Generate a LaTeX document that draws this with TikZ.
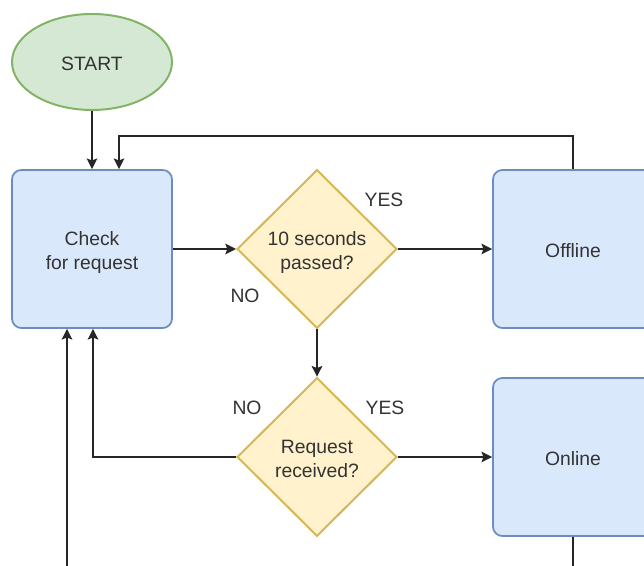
\documentclass[tikz,border=0pt]{standalone}
\usepackage{fontspec}
\setmainfont{Liberation Sans}
\usetikzlibrary{shapes.geometric,arrows.meta}
\definecolor{gfill}{HTML}{D5E8D4}
\definecolor{gline}{HTML}{82B366}
\definecolor{bfill}{HTML}{DAE8FC}
\definecolor{bline}{HTML}{6C8EBF}
\definecolor{yfill}{HTML}{FFF2CC}
\definecolor{yline}{HTML}{D6B656}
\definecolor{txt}{HTML}{333333}
\newcommand{\twoline}[2]{\raisebox{-2.5pt}[\height][\depth]{\begin{tabular}{@{}c@{}}#1\\#2\end{tabular}}}
\newcommand{\oneline}[1]{\raisebox{-1.2pt}[\height][\depth]{#1}}
\begin{document}
\begin{tikzpicture}[x=0.75pt,y=-0.75pt,
  font=\fontsize{14.5pt}{18pt}\selectfont, text=txt,
  startnode/.style={ellipse, draw=gline, fill=gfill, line width=1.5pt, minimum width=120pt, minimum height=72pt, inner sep=0pt},
  boxnode/.style={rectangle, rounded corners=7pt, draw=bline, fill=bfill, line width=1.3pt, minimum width=120pt, minimum height=118.5pt, inner sep=0pt},
  decnode/.style={diamond, draw=yline, fill=yfill, line width=1.5pt, minimum width=120pt, minimum height=119pt, inner sep=0pt},
  conn/.style={draw=black!85, line width=1.1pt},
  arr/.style={conn, -{Stealth[length=8pt,width=8pt,inset=1.5pt]}},
  lbl/.style={inner sep=0pt}]
\useasboundingbox (0,0) rectangle (644,566);
\clip (0,0) rectangle (644,566);
\node[startnode] (start) at (92,62) {\oneline{START}};
\node[boxnode] (check) at (92,249) {\twoline{Check}{for request}};
\node[decnode] (d1) at (317,249) {\twoline{10 seconds}{passed?}};
\node[boxnode] (offline) at (573,249) {\oneline{Offline}};
\node[decnode] (d2) at (317,457) {\twoline{Request}{received?}};
\node[boxnode] (online) at (573,457) {\oneline{Online}};
\node[lbl] (yes1) at (384,200) {YES};
\node[lbl] (no1) at (245,296) {NO};
\node[lbl] (no2) at (247,408) {NO};
\node[lbl] (yes2) at (385,408) {YES};
\coordinate (bottomin) at (67,580);
\coordinate (bottomout) at (573,580);
\draw[arr] (start.south) -- (check.north);
\draw[arr] (offline.north) -- ++(0,-33) -| ([xshift=20.25pt]check.north);
\draw[arr] (check.east) -- (d1.west);
\draw[arr] (d1.east) -- (offline.west);
\draw[arr] (d1.south) -- (d2.north);
\draw[arr] (d2.east) -- (online.west);
\draw[arr] (d2.west) -| ([xshift=0.75pt]check.south);
\draw[arr] (bottomin) -- ([xshift=-18.75pt]check.south);
\draw[conn] (online.south) -- (bottomout);
\end{tikzpicture}
\end{document}
